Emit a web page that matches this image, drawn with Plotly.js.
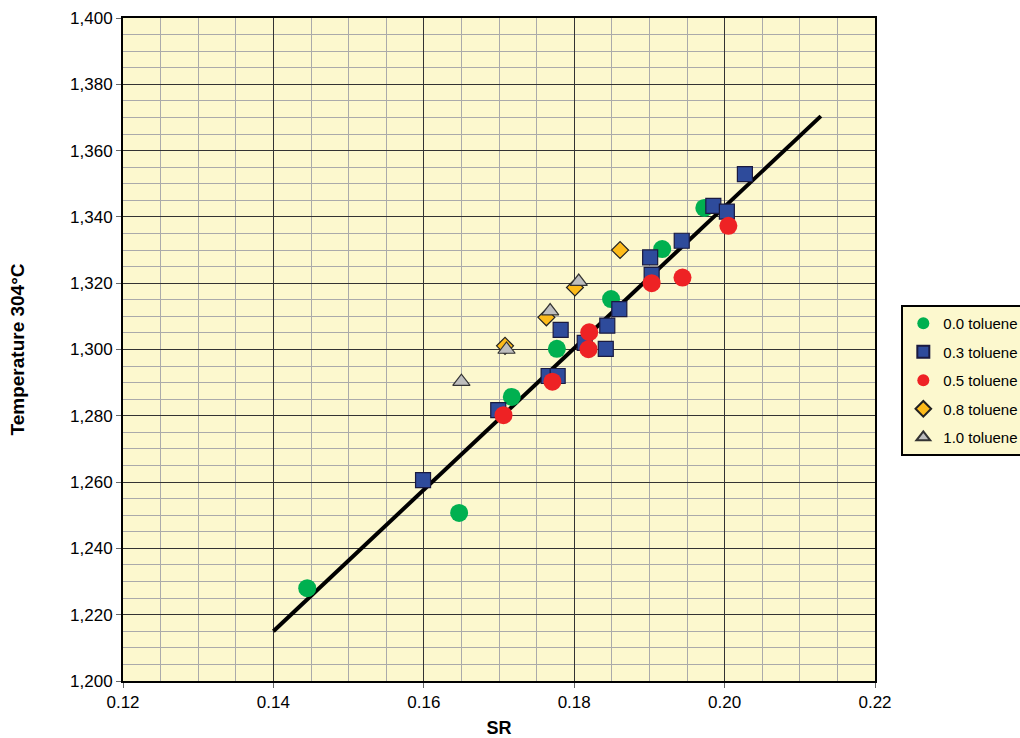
<!DOCTYPE html>
<html><head><meta charset="utf-8">
<script src="https://cdn.plot.ly/plotly-3.0.1.min.js"></script>
<style>body{margin:0;background:#fff}#c{width:1020px;height:738px}</style>
</head><body><div id="c"></div>
<script>
const sr00 = [0.1445, 0.1647, 0.1717, 0.1777, 0.1849, 0.1917, 0.1973];
const t00  = [1228, 1250.7, 1285.7, 1300.2, 1315.2, 1330.3, 1342.7];
const sr03 = [0.1599, 0.1699, 0.1766, 0.1778, 0.1782, 0.1814, 0.1844, 0.1842, 0.1860, 0.1901, 0.1903, 0.1943, 0.1985, 0.2003, 0.2027];
const t03  = [1260.6, 1281.7, 1292, 1292, 1305.9, 1302, 1307.2, 1300.2, 1312.2, 1327.8, 1322.5, 1332.8, 1343.3, 1341.6, 1352.9];
const sr05 = [0.1706, 0.1771, 0.1820, 0.1819, 0.1903, 0.1944, 0.2005];
const t05  = [1280.2, 1290.3, 1305.2, 1300.1, 1320, 1321.7, 1337.3];
const sr08 = [0.1708, 0.1763, 0.1801, 0.1861];
const t08  = [1301.1, 1309.7, 1318.7, 1330];
const sr10 = [0.1650, 0.1710, 0.1768, 0.1806];
const t10  = [1290.3, 1300, 1311.6, 1320.5];
const fitSR = [0.14, 0.2128];
const fitT  = [1215, 1370.4];

const traces = [
  {x: fitSR, y: fitT, mode:'lines', line:{color:'#000', width:4}, showlegend:false, hoverinfo:'skip'},
  {x: sr00, y: t00, mode:'markers', name:'0.0 toluene', legendgroup:'a', marker:{symbol:'circle', size:18, color:'#00B050'}},
  {x: sr03, y: t03, mode:'markers', name:'0.3 toluene', legendgroup:'b', marker:{symbol:'square', size:15, color:'#2E4B9B', line:{color:'#1a1a40', width:1.2}}},
  {x: sr05, y: t05, mode:'markers', name:'0.5 toluene', legendgroup:'c', marker:{symbol:'circle', size:18, color:'#EE2224'}},
  {x: sr08, y: t08, mode:'markers', name:'0.8 toluene', legendgroup:'d', marker:{symbol:'diamond', size:13, color:'#FDBB1A', line:{color:'#222', width:1.2}}},
  {x: sr10, y: t10, mode:'markers', name:'1.0 toluene', legendgroup:'e', marker:{symbol:'triangle-up', size:15, color:'#BEBEBE', line:{color:'#333', width:1.2}}}
];
const layout = {
  width:1020, height:738,
  margin:{l:123, r:145, t:18, b:57, autoexpand:false},
  paper_bgcolor:'#fff', plot_bgcolor:'#FCF8CE',
  font:{family:'Liberation Sans, Arial, sans-serif', size:17, color:'#000'},
  xaxis:{range:[0.12,0.22], dtick:0.02, tick0:0.12, tickformat:'.2f',
    showgrid:true, gridcolor:'#333', gridwidth:1,
    minor:{dtick:0.005, showgrid:true, gridcolor:'#AAAAAA', gridwidth:1},
    showline:true, linecolor:'#000', linewidth:2, mirror:true,
    ticks:'outside', ticklen:5, tickcolor:'#666', zeroline:false, automargin:false,
    title:{text:'<b>SR</b>', font:{size:18}, standoff:12}},
  yaxis:{range:[1200,1400], dtick:20, tickformat:',d',
    showgrid:true, gridcolor:'#333', gridwidth:1,
    minor:{dtick:5, showgrid:true, gridcolor:'#AAAAAA', gridwidth:1},
    showline:true, linecolor:'#000', linewidth:2, mirror:true,
    ticks:'outside', ticklen:5, tickcolor:'#666', zeroline:false, automargin:false,
    title:{text:'<b>Temperature 304°C</b>', font:{size:19}, standoff:40}},
  legend:{x:1.035, y:0.567, xanchor:'left', yanchor:'top', bgcolor:'#FCF8CE',
    bordercolor:'#000', borderwidth:2, font:{size:15}, itemwidth:30,
    traceorder:'grouped', tracegroupgap:6, itemsizing:'constant'},
  showlegend:true
};
Plotly.newPlot('c', traces, layout, {displayModeBar:false, staticPlot:true});
</script></body></html>
